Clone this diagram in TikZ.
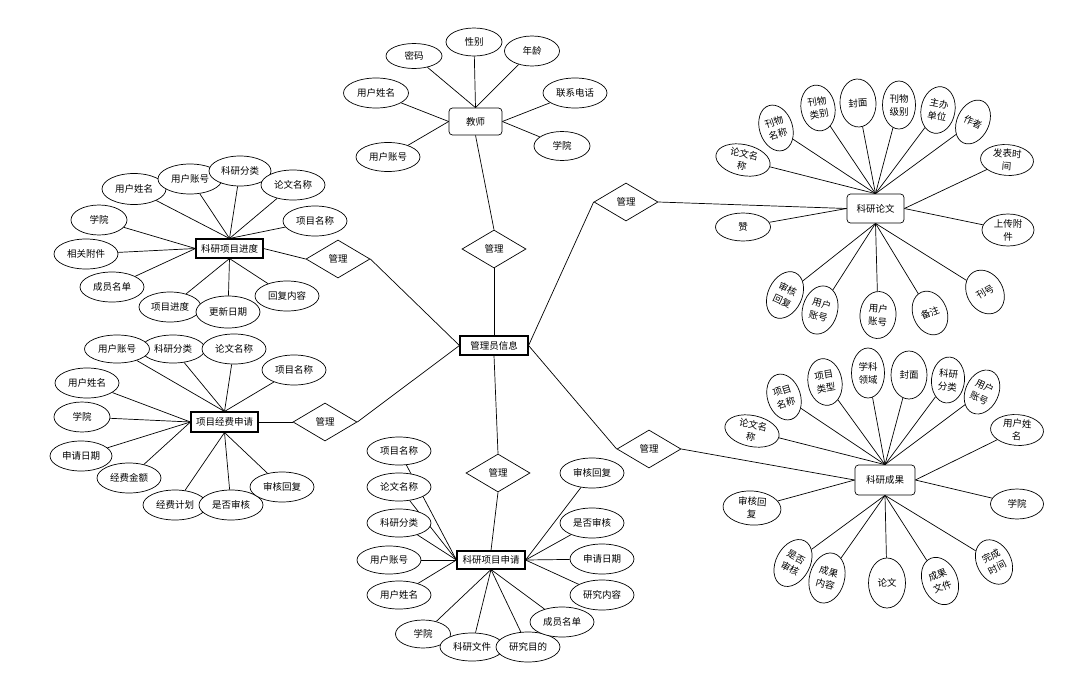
\documentclass[tikz,border=0pt]{standalone}
\usepackage{fontspec}
\newfontfamily\cjk{Noto Sans CJK SC}
\usetikzlibrary{shapes.geometric}
\pgfdeclarelayer{paper}
\pgfdeclarelayer{background}
\pgfsetlayers{paper,background,main}
\tikzset{
  attr/.style={ellipse, draw=black, fill=white, line width=0.7pt, inner sep=0pt,
    minimum width=64pt, minimum height=30pt, align=center,
    font=\cjk\fontsize{9.5}{11.5}\selectfont},
  rattr/.style={attr, font=\cjk\fontsize{9.5}{13}\selectfont},
  ent/.style={rectangle, draw=black, fill=white, line width=1.1pt, inner sep=0pt,
    font=\cjk\fontsize{9.5}{11.5}\selectfont},
  rent/.style={rectangle, rounded corners=3.5pt, draw=black, fill=white, line width=0.7pt,
    inner sep=0pt, font=\cjk\fontsize{9.5}{11.5}\selectfont},
  rel/.style={diamond, draw=black, fill=white, line width=0.7pt, inner sep=0pt, aspect=1.7,
    minimum width=64pt, minimum height=38pt, font=\cjk\fontsize{9.5}{11.5}\selectfont},
  conn/.style={draw=black, line width=0.7pt}
}
\begin{document}
\begin{tikzpicture}[x=1pt,y=-1pt]
\begin{pgfonlayer}{paper}
\fill[white] (0,0) rectangle (1074,675);
\end{pgfonlayer}
\useasboundingbox (0,0) rectangle (1074,675);

% ---------- central entity and relations ----------
\node[ent, minimum width=68pt, minimum height=19pt] (adm) at (494,345.5) {管理员信息};
\node[rel] (dT) at (494,249) {管理};
\node[rel] (dTR) at (626,202) {管理};
\node[rel] (dLU) at (338,259) {管理};
\node[rel] (dLL) at (325,422) {管理};
\node[rel] (dB) at (498,473) {管理};
\node[rel] (dBR) at (649,449) {管理};

% ---------- teacher ----------
\node[rent, minimum width=53pt, minimum height=27pt] (js) at (475.5,121.5) {教师};
\node[attr, minimum width=56pt, minimum height=25pt] (js1) at (414,56) {密码};
\node[attr, minimum width=56pt, minimum height=28pt] (js2) at (474,42) {性别};
\node[attr, minimum width=55pt, minimum height=30pt] (js3) at (532,51) {年龄};
\node[attr, minimum width=65pt] (js4) at (376,93) {用户姓名};
\node[attr] (js5) at (575,93) {联系电话};
\node[attr, minimum width=56pt, minimum height=29pt] (js6) at (562,146) {学院};
\node[attr, minimum height=29pt] (js7) at (388,157) {用户账号};

% ---------- 科研项目进度 ----------
\node[ent, minimum width=67pt, minimum height=19pt] (jd) at (229.5,248.5) {科研项目进度};
\node[attr, minimum height=31pt] (jd1) at (134,189) {用户姓名};
\node[attr] (jd2) at (190,179) {用户账号};
\node[attr, minimum width=62pt] (jd3) at (240,171) {科研分类};
\node[attr] (jd4) at (293,185) {论文名称};
\node[attr] (jd5) at (315,221) {项目名称};
\node[attr, minimum width=56pt] (jd6) at (99,220) {学院};
\node[attr] (jd7) at (86,254) {相关附件};
\node[attr] (jd8) at (112,287) {成员名单};
\node[attr, minimum width=62pt] (jd9) at (170,307) {项目进度};
\node[attr, minimum height=32pt] (jd10) at (228,312) {更新日期};
\node[attr] (jd11) at (287,296) {回复内容};

% ---------- 项目经费申请 ----------
\node[ent, minimum width=67pt, minimum height=20pt] (jf) at (224.5,422) {项目经费申请};
\node[attr, minimum height=28pt] (jf2) at (173,349) {科研分类};
\node[attr, minimum width=65pt, minimum height=28pt] (jf1) at (117,349) {用户账号};
\node[attr] (jf3) at (234,349) {论文名称};
\node[attr] (jf4) at (294,370) {项目名称};
\node[attr] (jf5) at (87,383) {用户姓名};
\node[attr, minimum width=56pt] (jf6) at (82,417) {学院};
\node[attr, minimum width=62pt] (jf7) at (81,456) {申请日期};
\node[attr] (jf8) at (129,478) {经费金额};
\node[attr] (jf9) at (175,505) {经费计划};
\node[attr] (jf10) at (231,505) {是否审核};
\node[attr] (jf11) at (282,487) {审核回复};

% ---------- 科研项目申请 ----------
\node[ent, minimum width=68pt, minimum height=18pt] (ks) at (491,560) {科研项目申请};
\node[attr, minimum height=28pt] (ks1) at (399,451) {项目名称};
\node[attr, minimum height=28pt] (ks2) at (399,487) {论文名称};
\node[attr, minimum height=28pt] (ks3) at (399,523) {科研分类};
\node[attr, minimum height=28pt] (ks4) at (389,560) {用户账号};
\node[attr, minimum height=28pt] (ks5) at (399,595) {用户姓名};
\node[attr, minimum width=55pt, minimum height=28pt] (ks6) at (423,634) {学院};
\node[attr, minimum height=28pt] (ks7) at (472,647) {科研文件};
\node[attr] (ks8) at (528,647) {研究目的};
\node[attr] (ks9) at (562,622) {成员名单};
\node[attr] (ks10) at (602,595) {研究内容};
\node[attr] (ks11) at (602,559) {申请日期};
\node[attr] (ks12) at (592,523) {是否审核};
\node[attr] (ks13) at (592,473) {审核回复};

% ---------- 科研论文 ----------
\node[rent, minimum width=57pt, minimum height=29pt] (kl) at (875.5,208.5) {科研论文};
\node[rattr, minimum width=55pt, minimum height=31pt, rotate=-12] (kl1) at (743,160) {论文名\\称};
\node[rattr, minimum width=33pt, minimum height=47pt, rotate=18] (kl2) at (776,128) {刊物\\名称};
\node[rattr, minimum width=34pt, minimum height=46pt, rotate=10] (kl3) at (818,108) {刊物\\类别};
\node[rattr, minimum width=36pt, minimum height=48pt, rotate=3] (kl4) at (858,103) {封面};
\node[rattr, minimum width=33pt, minimum height=48pt] (kl5) at (899,105) {刊物\\级别};
\node[rattr, minimum width=34pt, minimum height=47pt, rotate=-10] (kl6) at (938,110) {主办\\单位};
\node[rattr, minimum width=32pt, minimum height=46pt, rotate=-25] (kl7) at (973,122) {作者};
\node[rattr, minimum width=53pt, minimum height=30pt, rotate=-4] (kl8) at (1007,160) {发表时\\间};
\node[rattr, minimum width=52pt, minimum height=32pt] (kl9) at (1008,230) {上传附\\件};
\node[rattr, minimum width=36pt, minimum height=46pt, rotate=30] (kl10) at (985,292) {刊号};
\node[rattr, minimum width=34pt, minimum height=45pt, rotate=22] (kl11) at (930,313) {备注};
\node[rattr, minimum width=36pt, minimum height=47pt, rotate=-4] (kl12) at (878,315) {用户\\账号};
\node[rattr, minimum width=35pt, minimum height=49pt, rotate=-15] (kl13) at (820,310) {用户\\账号};
\node[rattr, minimum width=34pt, minimum height=49pt, rotate=-25] (kl14) at (785,295) {审核\\回复};
\node[rattr, minimum width=55pt, minimum height=28pt] (kl15) at (743,227) {赞};

% ---------- 科研成果 ----------
\node[rent, minimum width=60pt, minimum height=30pt] (kc) at (885,480) {科研成果};
\node[rattr, minimum width=55pt, minimum height=31pt, rotate=-12] (kc1) at (752,431) {论文名\\称};
\node[rattr, minimum width=33pt, minimum height=47pt, rotate=18] (kc2) at (784,397) {项目\\名称};
\node[rattr, minimum width=34pt, minimum height=47pt, rotate=10] (kc3) at (825,382) {项目\\类型};
\node[rattr, minimum width=33pt, minimum height=50pt] (kc4) at (868,373) {学科\\领域};
\node[rattr, minimum width=36pt, minimum height=48pt] (kc5) at (909,375) {封面};
\node[rattr, minimum width=33pt, minimum height=46pt, rotate=-5] (kc6) at (948,380) {科研\\分类};
\node[rattr, minimum width=33pt, minimum height=46pt, rotate=-25] (kc7) at (982,392) {用户\\账号};
\node[rattr, minimum width=53pt, minimum height=30pt, rotate=-4] (kc8) at (1017,430) {用户姓\\名};
\node[rattr, minimum width=53pt, minimum height=30pt] (kc9) at (1017,504) {学院};
\node[rattr, minimum width=34pt, minimum height=47pt, rotate=28] (kc10) at (994,562) {完成\\时间};
\node[rattr, minimum width=35pt, minimum height=49pt, rotate=22] (kc11) at (940,581) {成果\\文件};
\node[rattr, minimum width=37pt, minimum height=50pt] (kc12) at (887,583) {论文};
\node[rattr, minimum width=35pt, minimum height=51pt, rotate=-15] (kc13) at (827,578) {成果\\内容};
\node[rattr, minimum width=34pt, minimum height=50pt, rotate=-28] (kc14) at (793,563) {是否\\审核};
\node[rattr, minimum width=58pt, minimum height=34pt, rotate=-4] (kc15) at (752,508) {审核回\\复};

% ---------- connectors ----------
\begin{pgfonlayer}{background}
\path[conn] (js.south) -- (dT.north);
\path[conn] (dT.south) -- (adm.north);
\path[conn] (adm.east) -- (dTR.west);
\path[conn] (dTR.east) -- (kl.west);
\path[conn] (adm.west) -- (dLU.east);
\path[conn] (dLU.west) -- (jd.east);
\path[conn] (adm.west) -- (dLL.east);
\path[conn] (dLL.west) -- (jf.east);
\path[conn] (adm.south) -- (dB.north);
\path[conn] (dB.south) -- (ks.north);
\path[conn] (adm.east) -- (dBR.west);
\path[conn] (dBR.east) -- (kc.west);

\foreach \a in {js1,js2,js3} \path[conn] (\a) -- (js.north);
\foreach \a in {js4,js7} \path[conn] (\a) -- (js.west);
\foreach \a in {js5,js6} \path[conn] (\a) -- (js.east);

\foreach \a in {jd1,jd2,jd3,jd4,jd5} \path[conn] (\a) -- (jd.north);
\foreach \a in {jd6,jd7,jd8} \path[conn] (\a) -- (jd.west);
\foreach \a in {jd9,jd10,jd11} \path[conn] (\a) -- (jd.south);

\foreach \a in {jf1,jf2,jf3,jf4} \path[conn] (\a) -- (jf.north);
\foreach \a in {jf5,jf6,jf7,jf8} \path[conn] (\a) -- (jf.west);
\foreach \a in {jf9,jf10,jf11} \path[conn] (\a) -- (jf.south);

\foreach \a in {ks1,ks2,ks3,ks4,ks5} \path[conn] (\a) -- (ks.west);
\foreach \a in {ks6,ks7,ks8,ks9} \path[conn] (\a) -- (ks.south);
\foreach \a in {ks10,ks11,ks12,ks13} \path[conn] (\a) -- (ks.east);

\foreach \a in {kl1,kl2,kl3,kl4,kl5,kl6,kl7} \path[conn] (\a) -- (kl.north);
\foreach \a in {kl8,kl9} \path[conn] (\a) -- (kl.east);
\foreach \a in {kl10,kl11,kl12,kl13,kl14} \path[conn] (\a) -- (kl.south);
\path[conn] (kl15) -- (kl.west);

\foreach \a in {kc1,kc2,kc3,kc4,kc5,kc6,kc7} \path[conn] (\a) -- (kc.north);
\foreach \a in {kc8,kc9} \path[conn] (\a) -- (kc.east);
\foreach \a in {kc10,kc11,kc12,kc13,kc14} \path[conn] (\a) -- (kc.south);
\path[conn] (kc15) -- (kc.west);
\end{pgfonlayer}
\end{tikzpicture}
\end{document}
